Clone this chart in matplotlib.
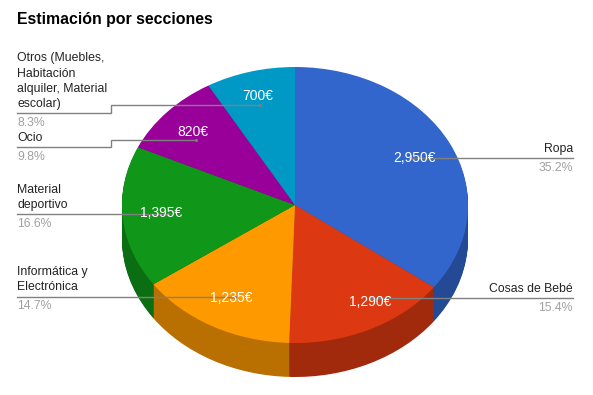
import matplotlib
matplotlib.use("Agg")
import matplotlib.pyplot as plt
import numpy as np
from matplotlib.colors import to_rgb

W, H = 593, 395

title = "Estimación por secciones"
values = [2950, 1290, 1235, 1395, 820, 700]
percents = ["35.2%", "15.4%", "14.7%", "16.6%", "9.8%", "8.3%"]
names = ["Ropa", "Cosas de Bebé", "Informática y\nElectrónica", "Material\ndeportivo",
         "Ocio", "Otros (Muebles,\nHabitación\nalquiler, Material\nescolar)"]
colors = ["#3366cc", "#dc3912", "#ff9900", "#109618", "#990099", "#0099c6"]

# Pie geometry in pixels
CX, CY, RX, RY, DEPTH = 295, 205, 173, 138, 34

plt.rcParams['font.family'] = ['Liberation Sans', 'DejaVu Sans']
fig = plt.figure(figsize=(W / 100, H / 100), dpi=100)

# Axes spans exactly the ellipse, so the unit pie gets squashed into it
pie_ax = fig.add_axes([(CX - RX) / W, 1 - (CY + RY) / H, 2 * RX / W, 2 * RY / H])
dark = [tuple(c * 0.73 for c in to_rgb(col)) for col in colors]
for d in np.arange(DEPTH, 0, -1):
    pie_ax.pie(values, colors=dark, startangle=90, counterclock=False,
               center=(0, -d / RY), radius=1)
pie_ax.pie(values, colors=colors, startangle=90, counterclock=False, radius=1)
pie_ax.set_aspect('auto')
pie_ax.set_xlim(-1, 1)
pie_ax.set_ylim(-1, 1)
pie_ax.axis('off')
for p in pie_ax.patches:
    p.set_clip_on(False)

# Overlay in pixel coordinates for labels and leader lines
ax = fig.add_axes([0, 0, 1, 1], facecolor='none')
ax.set_xlim(0, W)
ax.set_ylim(H, 0)
ax.axis('off')

ax.text(17, 19.5, title, fontsize=11.45, fontweight='bold', color='black', va='center')

LINE_COLOR = "#808080"
leaders = [
    ([573, 410], [158, 158]),
    ([573, 370], [298, 298]),
    ([17, 235], [296.5, 296.5]),
    ([17, 168], [214, 214]),
    ([17, 111, 111, 196], [147, 147, 140, 140]),
    ([17, 111, 111, 260], [113, 113, 105, 105]),
]
for xs, ys in leaders:
    ax.plot(xs, ys, color=LINE_COLOR, lw=1, solid_joinstyle='miter')
    ax.plot(xs[-1], ys[-1], 'o', color=LINE_COLOR, ms=2.2, mew=0)

# x, y of name block bottom, x alignment
name_pos = [(573, 155, 'right'), (573, 295, 'right'), (17, 293.5, 'left'),
            (17, 211, 'left'), (17, 144, 'left'), (17, 110.5, 'left')]
pct_y = [168, 308, 306, 224, 157, 123]
for name, pct, (x, y, ha), py in zip(names, percents, name_pos, pct_y):
    ax.text(x, y, name, fontsize=8.85, color="#222222", ha=ha, va='bottom', linespacing=1.38)
    ax.text(x, py, pct, fontsize=8.85, color="#a0a0a0", ha=ha, va='center')

value_pos = [(414, 158), (370, 302), (231, 298), (161, 213), (193, 132), (258, 96)]
for v, (x, y) in zip(values, value_pos):
    ax.text(x, y, f"{v:,}€", fontsize=10, color='white', ha='center', va='center')

fig.savefig("out.png", dpi=100, facecolor='white')
